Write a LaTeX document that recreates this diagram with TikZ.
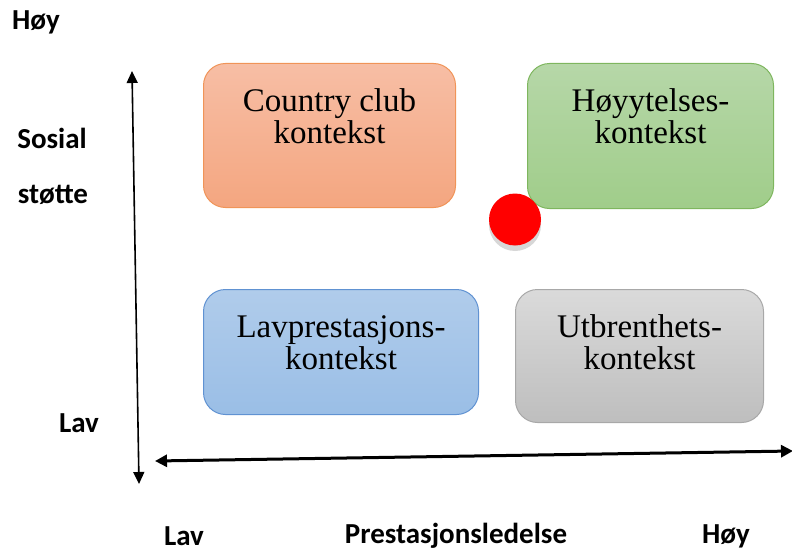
\documentclass[tikz,border=0pt]{standalone}
\usepackage{fontspec}
\setmainfont{Liberation Serif}
\newfontfamily\labelfont{Carlito}
\usetikzlibrary{arrows.meta}
\begin{document}
\begin{tikzpicture}[x=1pt,y=-1pt,
  quad/.style={draw, rounded corners=22pt, line width=1pt, inner sep=0pt, anchor=north west},
  quadtext/.style={font=\fontsize{33}{32}\selectfont, align=center, anchor=base, inner sep=0pt},
  axislabel/.style={font=\labelfont\bfseries\fontsize{29}{32}\selectfont, inner sep=0pt},
  axis/.style={-{Triangle[length=12pt,width=11pt]}, line width=1.6pt},
  haxis/.style={{Triangle[length=12pt,width=12pt]}-{Triangle[length=12pt,width=12pt]}, line width=3pt}
]
\useasboundingbox (0,0) rectangle (792,551);

% four quadrants
\node[quad, minimum width=252pt, minimum height=144pt, draw={rgb,255:red,240;green,148;blue,88},
  top color={rgb,255:red,247;green,190;blue,165}, bottom color={rgb,255:red,244;green,166;blue,128}]
  (cc) at (203,63) {};
\node[quad, minimum width=246pt, minimum height=145pt, draw={rgb,255:red,126;green,182;blue,94},
  top color={rgb,255:red,182;green,215;blue,168}, bottom color={rgb,255:red,160;green,205;blue,138}]
  (hy) at (527,63) {};
\node[quad, minimum width=275pt, minimum height=125pt, draw={rgb,255:red,96;green,146;blue,210},
  top color={rgb,255:red,176;green,204;blue,235}, bottom color={rgb,255:red,154;green,190;blue,230}]
  (lp) at (203,289) {};
\node[quad, minimum width=248pt, minimum height=133pt, draw={rgb,255:red,168;green,168;blue,168},
  top color={rgb,255:red,218;green,218;blue,218}, bottom color={rgb,255:red,190;green,190;blue,190}]
  (ub) at (515,289) {};

% two-line captions, anchored on the baseline of the lower line
\node[quadtext] (cct) at ([yshift=-80pt]cc.north) {Country club\\kontekst};
\node[quadtext] (hyt) at ([yshift=-80pt]hy.north) {Høyytelses-\\kontekst};
\node[quadtext] (lpt) at ([yshift=-80pt]lp.north) {Lavprestasjons-\\kontekst};
\node[quadtext] (ubt) at ([yshift=-80pt]ub.north) {Utbrenthets-\\kontekst};

% marker with its soft shadow
\node[circle, fill={rgb,255:red,215;green,215;blue,215}, minimum size=52pt, inner sep=0pt] (dotshadow) at (515,225) {};
\node[circle, fill=red, minimum size=52pt, inner sep=0pt] (dot) at (515,219.5) {};

% axes
\coordinate (vtop) at (132,71);
\coordinate (vbot) at (139,484);
\coordinate (vmid) at (135.5,277);
\draw[axis] (vmid) -- (vtop);
\draw[axis] (vmid) -- (vbot);
\coordinate (hleft) at (155,461);
\coordinate (hright) at (793,451);
\draw[haxis] (hleft) -- (hright);

% axis labels
\node[axislabel] (yhigh) at (36,22) {Høy};
\node[axislabel] (ytitle1) at (52,138) {Sosial};
\node[axislabel] (ytitle2) at (53,195) {støtte};
\node[axislabel] (ylow) at (79,423) {Lav};
\node[axislabel] (xlow) at (184,536) {Lav};
\node[axislabel] (xtitle) at (456,536) {Prestasjonsledelse};
\node[axislabel] (xhigh) at (726,536) {Høy};
\end{tikzpicture}
\end{document}
